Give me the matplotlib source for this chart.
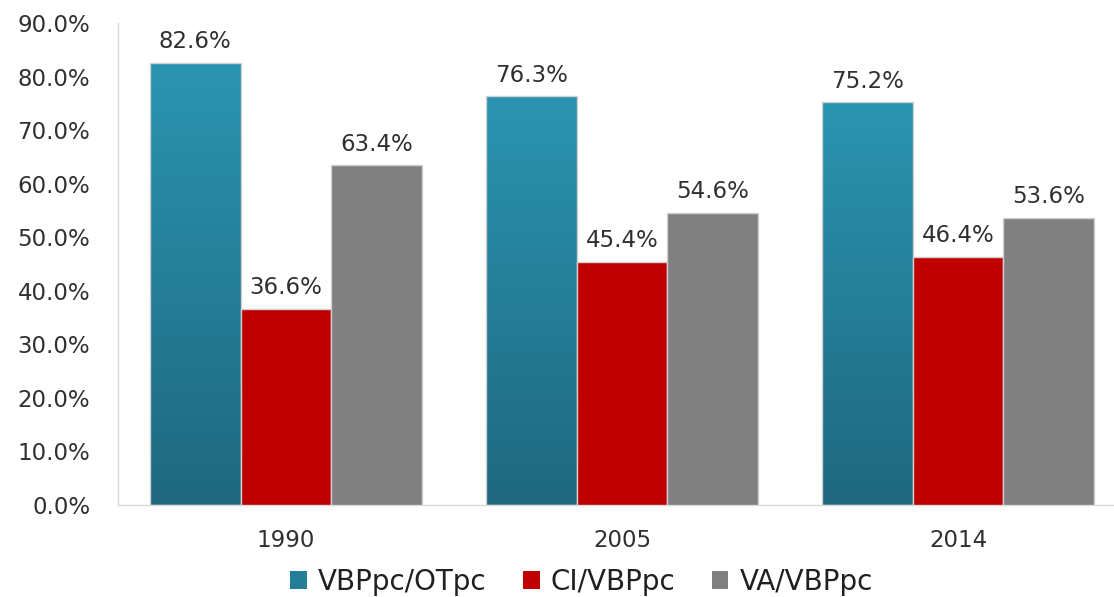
import numpy as np
import matplotlib
matplotlib.use('Agg')
import matplotlib.pyplot as plt
from matplotlib.patches import Patch

years = ['1990', '2005', '2014']
series_names = ['VBPpc/OTpc', 'CI/VBPpc', 'VA/VBPpc']
vbp_ot = [82.6, 76.3, 75.2]
ci_vbp = [36.6, 45.4, 46.4]
va_vbp = [63.4, 54.6, 53.6]
y_ticks = [0, 10, 20, 30, 40, 50, 60, 70, 80, 90]

teal_top = np.array([0x2b, 0x94, 0xb1]) / 255.0
teal_bot = np.array([0x1f, 0x68, 0x7e]) / 255.0
red = '#c00000'
gray = '#808080'
txt = '#303030'

plt.rcParams['font.family'] = ['DejaVu Sans']

fig = plt.figure(figsize=(11.14, 5.97), dpi=100)
ax = fig.add_axes([118 / 1114, 1 - 505 / 597, 1 - 118 / 1114, (505 - 23) / 597])

x = np.arange(len(years))
w = 0.27
edge = '#d0d0d0'

# teal bars with a vertical gradient, drawn as images clipped to each bar
grad = np.linspace(0, 1, 256)[:, None]
cols = teal_bot[None, :] * (1 - grad) + teal_top[None, :] * grad
img = np.repeat(cols[:, None, :], 2, axis=1)
teal_bars = ax.bar(x - w, vbp_ot, w, color='none', edgecolor=edge, linewidth=1, zorder=3)
for b in teal_bars:
    x0, h = b.get_x(), b.get_height()
    im = ax.imshow(img, extent=(x0, x0 + w, 0, h), origin='lower', aspect='auto', zorder=2)
    im.set_clip_path(b)

red_bars = ax.bar(x, ci_vbp, w, color=red, edgecolor=edge, linewidth=1, zorder=3)
gray_bars = ax.bar(x + w, va_vbp, w, color=gray, edgecolor=edge, linewidth=1, zorder=3)

for bars, vals in ((teal_bars, vbp_ot), (red_bars, ci_vbp), (gray_bars, va_vbp)):
    for b, v in zip(bars, vals):
        ax.annotate('{0:.1f}%'.format(v), (b.get_x() + b.get_width() / 2, v),
                    xytext=(0, 7), textcoords='offset points', ha='center', va='bottom',
                    fontsize=16.5, color=txt)

ax.set_xlim(-0.5, 2.5 - 12 / 336)
ax.set_ylim(0, 90)
ax.set_xticks(x)
ax.set_xticklabels(years)
ax.set_yticks(y_ticks)
ax.set_yticklabels(['{0:.1f}%'.format(t) for t in y_ticks])
ax.tick_params(axis='both', length=0, labelsize=16.5, labelcolor=txt)
ax.tick_params(axis='x', pad=17)
ax.tick_params(axis='y', pad=20)
for s in ('top', 'right'):
    ax.spines[s].set_visible(False)
for s in ('left', 'bottom'):
    ax.spines[s].set_color('#d9d9d9')
    ax.spines[s].set_linewidth(1)

handles = [Patch(facecolor=tuple((teal_top + teal_bot) / 2)), Patch(facecolor=red), Patch(facecolor=gray)]
fig.legend(handles, series_names, loc='center', bbox_to_anchor=(0.522, 0.025), ncol=3,
           frameon=False, fontsize=20, handlelength=0.6, handleheight=0.6,
           handletextpad=0.4, columnspacing=1.3, labelcolor='#202020')

fig.savefig('out.png', dpi=100)
